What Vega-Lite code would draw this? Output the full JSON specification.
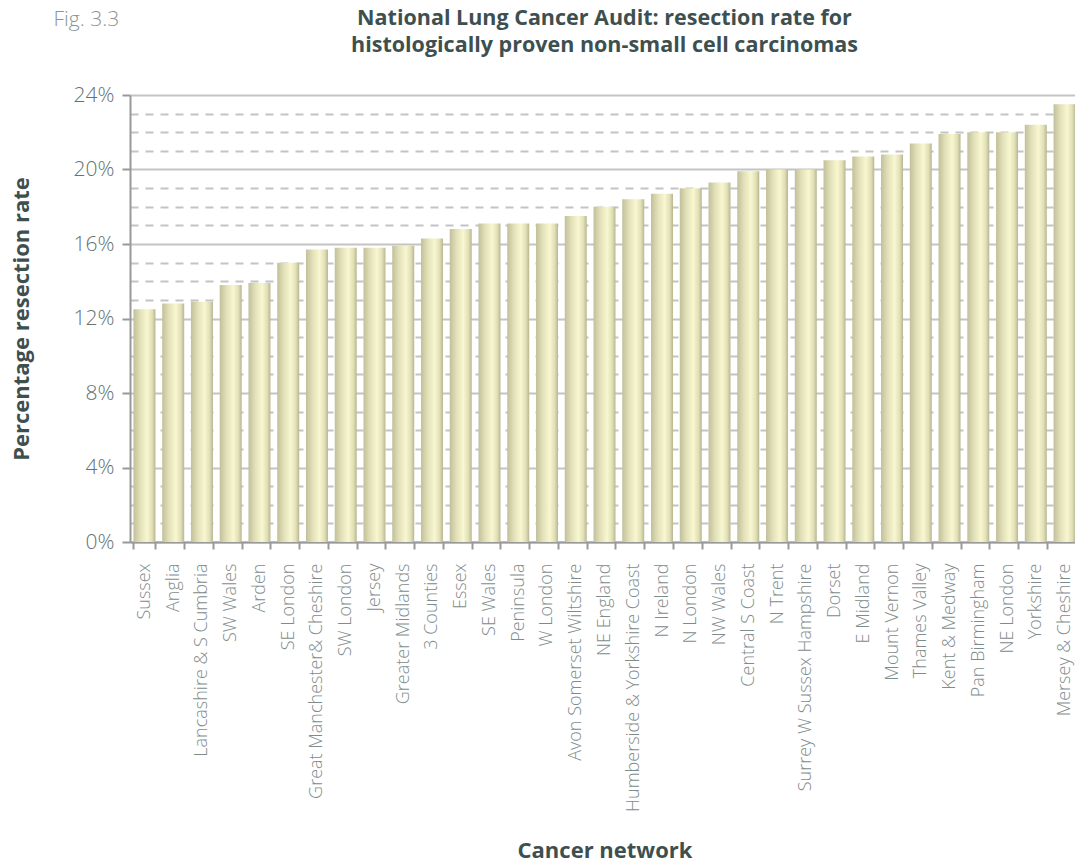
{
  "$schema": "https://vega.github.io/schema/vega-lite/v6.json",
  "autosize": {"type": "none"},
  "width": 949,
  "height": 447,
  "padding": {"left": 130, "top": 95, "right": 0, "bottom": 322},
  "background": "white",
  "config": {"view": {"stroke": null}, "font": "Open Sans"},
  "title": {
    "text": ["National Lung Cancer Audit: resection rate for", "histologically proven non-small cell carcinomas"],
    "anchor": "middle",
    "font": "Open Sans",
    "fontSize": 21.5,
    "fontWeight": "bold",
    "color": "#3e4f4f",
    "lineHeight": 27,
    "offset": -48
  },
  "data": {
    "values": [
      {"network": "Sussex", "rate": 12.5},
      {"network": "Anglia", "rate": 12.8},
      {"network": "Lancashire & S Cumbria", "rate": 12.9},
      {"network": "SW Wales", "rate": 13.8},
      {"network": "Arden", "rate": 13.9},
      {"network": "SE London", "rate": 15.0},
      {"network": "Great Manchester& Cheshire", "rate": 15.7},
      {"network": "SW London", "rate": 15.8},
      {"network": "Jersey", "rate": 15.8},
      {"network": "Greater Midlands", "rate": 15.9},
      {"network": "3 Counties", "rate": 16.3},
      {"network": "Essex", "rate": 16.8},
      {"network": "SE Wales", "rate": 17.1},
      {"network": "Peninsula", "rate": 17.1},
      {"network": "W London", "rate": 17.1},
      {"network": "Avon Somerset Wiltshire", "rate": 17.5},
      {"network": "NE England", "rate": 18.0},
      {"network": "Humberside & Yorkshire Coast", "rate": 18.4},
      {"network": "N Ireland", "rate": 18.7},
      {"network": "N London", "rate": 19.0},
      {"network": "NW Wales", "rate": 19.3},
      {"network": "Central S Coast", "rate": 19.9},
      {"network": "N Trent", "rate": 20.0},
      {"network": "Surrey W Sussex Hampshire", "rate": 20.0},
      {"network": "Dorset", "rate": 20.5},
      {"network": "E Midland", "rate": 20.7},
      {"network": "Mount Vernon", "rate": 20.8},
      {"network": "Thames Valley", "rate": 21.4},
      {"network": "Kent & Medway", "rate": 21.9},
      {"network": "Pan Birmingham", "rate": 22.0},
      {"network": "NE London", "rate": 22.0},
      {"network": "Yorkshire", "rate": 22.4},
      {"network": "Mersey & Cheshire", "rate": 23.5}
    ]
  },
  "resolve": {"axis": {"x": "independent"}},
  "layer": [
    {
      "mark": {
        "type": "bar",
        "color": {
          "gradient": "linear",
          "x1": 0, "y1": 0, "x2": 1, "y2": 0,
          "stops": [
            {"offset": 0, "color": "#c2c09a"},
            {"offset": 0.3, "color": "#e2e0b8"},
            {"offset": 0.62, "color": "#f8f7d0"},
            {"offset": 0.85, "color": "#e0dfb6"},
            {"offset": 1, "color": "#b8b690"}
          ]
        }
      },
      "encoding": {
        "x": {
          "field": "network",
          "type": "nominal",
          "sort": null,
          "scale": {"paddingInner": 0.235, "paddingOuter": 0.12},
          "axis": {
            "title": "Cancer network",
            "titleFont": "Open Sans",
            "titleFontSize": 22,
            "titleFontWeight": "bold",
            "titleColor": "#3e4f4f",
            "titleY": 308,
            "titleBaseline": "middle",
            "labelAngle": -90,
            "labelAlign": "right",
            "labelBaseline": "middle",
            "labelFont": "Open Sans",
            "labelFontWeight": 300,
            "labelFontSize": 18,
            "labelColor": "#7f8c8c",
            "labelPadding": 14,
            "labelLimit": 400,
            "tickBand": "extent",
            "tickSize": 7,
            "tickColor": "#999999",
            "tickWidth": 2,
            "domainColor": "#999999",
            "domainWidth": 2,
            "grid": false
          }
        },
        "y": {
          "field": "rate",
          "type": "quantitative",
          "scale": {"domain": [0, 24], "nice": false},
          "axis": {
            "title": "Percentage resection rate",
            "titleFont": "Open Sans",
            "titleFontSize": 22,
            "titleFontWeight": "bold",
            "titleColor": "#3e4f4f",
            "titleX": -109,
            "titleBaseline": "middle",
            "values": [0,1,2,3,4,5,6,7,8,9,10,11,12,13,14,15,16,17,18,19,20,21,22,23,24],
            "labelExpr": "datum.value % 4 === 0 ? datum.value + '%' : ''",
            "labelFont": "Open Sans",
            "labelFontWeight": 300,
            "labelFontSize": 21,
            "labelColor": "#637272",
            "labelPadding": 8,
            "tickSize": {"condition": {"test": "datum.value % 4 === 0", "value": 8}, "value": 0},
            "tickColor": "#999999",
            "tickWidth": 2,
            "domainColor": "#999999",
            "domainWidth": 2,
            "grid": true,
            "gridColor": "#c4c4c4",
            "gridWidth": 2,
            "gridDash": {"condition": {"test": "datum.value % 4 === 0", "value": [1, 0]}, "value": [8, 7]}
          }
        }
      }
    },
    {
      "mark": {"type": "bar", "opacity": 0},
      "encoding": {
        "x": {
          "field": "network",
          "type": "nominal",
          "sort": null,
          "axis": {
            "orient": "top",
            "title": "Fig. 3.3",
            "titleFont": "Open Sans",
            "titleFontWeight": 300,
            "titleFontSize": 21,
            "titleColor": "#8a9494",
            "titleAnchor": "start",
            "titleAlign": "left",
            "titleBaseline": "middle",
            "titleX": -77,
            "titleY": -76,
            "labels": false,
            "ticks": false,
            "domain": false,
            "grid": false
          }
        }
      }
    }
  ]
}
